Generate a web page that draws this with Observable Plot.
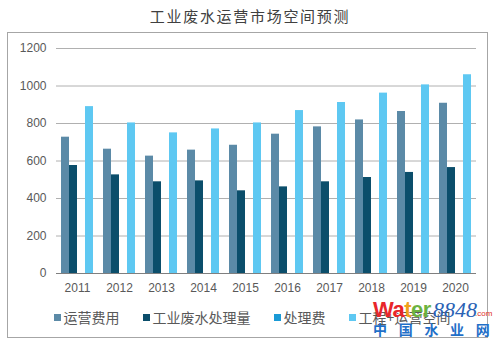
<!DOCTYPE html>
<html>
<head>
<meta charset="utf-8">
<script src="https://cdn.jsdelivr.net/npm/d3@7"></script>
<script src="https://cdn.jsdelivr.net/npm/@observablehq/plot@0.6"></script>
<style>
  body { margin: 0; background: #fff; }
  #root { position: relative; width: 500px; height: 345px; overflow: hidden; font-family: "Liberation Sans", "Noto Sans CJK SC", sans-serif; }
  #frame { position: absolute; left: 7px; top: 32px; width: 481px; height: 306px; border: 1px solid #a6a6a6; box-sizing: border-box; }
  #title { position: absolute; left: 0; top: 6px; width: 500px; text-align: center; font-family: "Noto Sans CJK SC", sans-serif; font-size: 15px; letter-spacing: 1.7px; color: #404040; line-height: 20px; }
  #chart { position: absolute; left: 0; top: 33px; }
  #chart svg text { font-family: "Liberation Sans", Arial, sans-serif; }
  #legend { position: absolute; left: 0; top: 308px; width: 500px; display: flex; justify-content: center; gap: 23px; font-family: "Noto Sans CJK SC", sans-serif; font-size: 14px; color: #595959; line-height: 18px; padding-left: 4px; box-sizing: border-box; }
  #legend .item { display: flex; align-items: center; }
  #legend .sw { width: 7px; height: 7px; margin-right: 3px; }
  #wm { position: absolute; left: 371px; top: 299px; width: 128px; height: 45px; pointer-events: none; }
  #wm span { white-space: nowrap; }
  #wm .w1 { position: absolute; left: 2px; top: 0; font-family: "Liberation Sans", sans-serif; font-weight: bold; font-size: 22px; letter-spacing: -0.5px; line-height: 22px; }
  #wm .w2 { position: absolute; left: 62px; top: 0px; font-family: "Liberation Serif", serif; font-style: italic; font-size: 22px; color: #2a62b5; line-height: 22px; }
  #wm .w3 { position: absolute; left: 104px; top: 10px; font-family: "Liberation Sans", sans-serif; font-size: 8px; color: #e0302a; line-height: 10px; }
  #wm .w4 { position: absolute; left: 2px; top: 22px; font-family: "Noto Sans CJK SC", sans-serif; font-weight: bold; font-size: 14px; color: #1f6fc8; letter-spacing: 11.7px; line-height: 16px; }
</style>
</head>
<body>
<div id="root">
  <div id="frame"></div>
  <div id="title">工业废水运营市场空间预测</div>
  <div id="chart"></div>
  <div id="legend"></div>
  <div id="wm">
    <span class="w1"><span style="color:#e8262b">Wa</span><span style="color:#f0a21c">t</span><span style="color:#6cb33f">er</span></span>
    <span class="w2">8848</span>
    <span class="w3">.com</span>
    <span class="w4">中国水业网</span>
  </div>
</div>
<script>
const years = ["2011","2012","2013","2014","2015","2016","2017","2018","2019","2020"];
const seriesNames = ["运营费用","工业废水处理量","处理费","工程+运营空间"];
const opCost = [727,663,626,658,684,743,782,819,864,908];
const volume = [576,526,489,494,441,462,489,512,539,565];
const fee = [null,null,null,null,null,null,null,null,null,null];
const space = [890,803,750,771,803,869,912,962,1006,1060];
const colors = ["#5b8aa7","#0b4e6b","#1a9ad6","#5ec8f2"];
const yTicks = [0,200,400,600,800,1000,1200];

const seriesValues = [opCost, volume, fee, space];
const data = [];
years.forEach((yr, i) => {
  seriesValues.forEach((arr, j) => {
    if (arr[i] != null) data.push({year: yr, series: seriesNames[j], value: arr[i]});
  });
});

const chart = Plot.plot({
  width: 500,
  height: 265,
  marginLeft: 52,
  marginRight: 20,
  marginTop: 15,
  marginBottom: 25,
  style: {fontSize: "12px", fontFamily: "Liberation Sans, Arial, sans-serif", color: "#595959", background: "transparent"},
  facet: {data: data, x: "year"},
  fx: {domain: years, padding: 0, label: null, tickSize: 0, tickPadding: 10},
  x: {domain: seriesNames, axis: null, paddingInner: 0, paddingOuter: 0.53},
  y: {domain: [0, 1200], ticks: yTicks, tickFormat: d => String(d), tickSize: 0, tickPadding: 10, label: null},
  color: {domain: seriesNames, range: colors},
  marks: [
    Plot.ruleY(yTicks.filter(d => d > 0), {stroke: "#b0b0b0", strokeWidth: 1}),
    Plot.barY(data, {x: "series", y: "value", fill: "series"}),
    Plot.ruleY([0], {stroke: "#7f7f7f", strokeWidth: 1})
  ]
});
document.getElementById("chart").appendChild(chart);

const legend = document.getElementById("legend");
seriesNames.forEach((name, i) => {
  const item = document.createElement("div");
  item.className = "item";
  const sw = document.createElement("span");
  sw.className = "sw";
  sw.style.background = colors[i];
  const tx = document.createElement("span");
  tx.textContent = name;
  item.appendChild(sw);
  item.appendChild(tx);
  legend.appendChild(item);
});
</script>
</body>
</html>
